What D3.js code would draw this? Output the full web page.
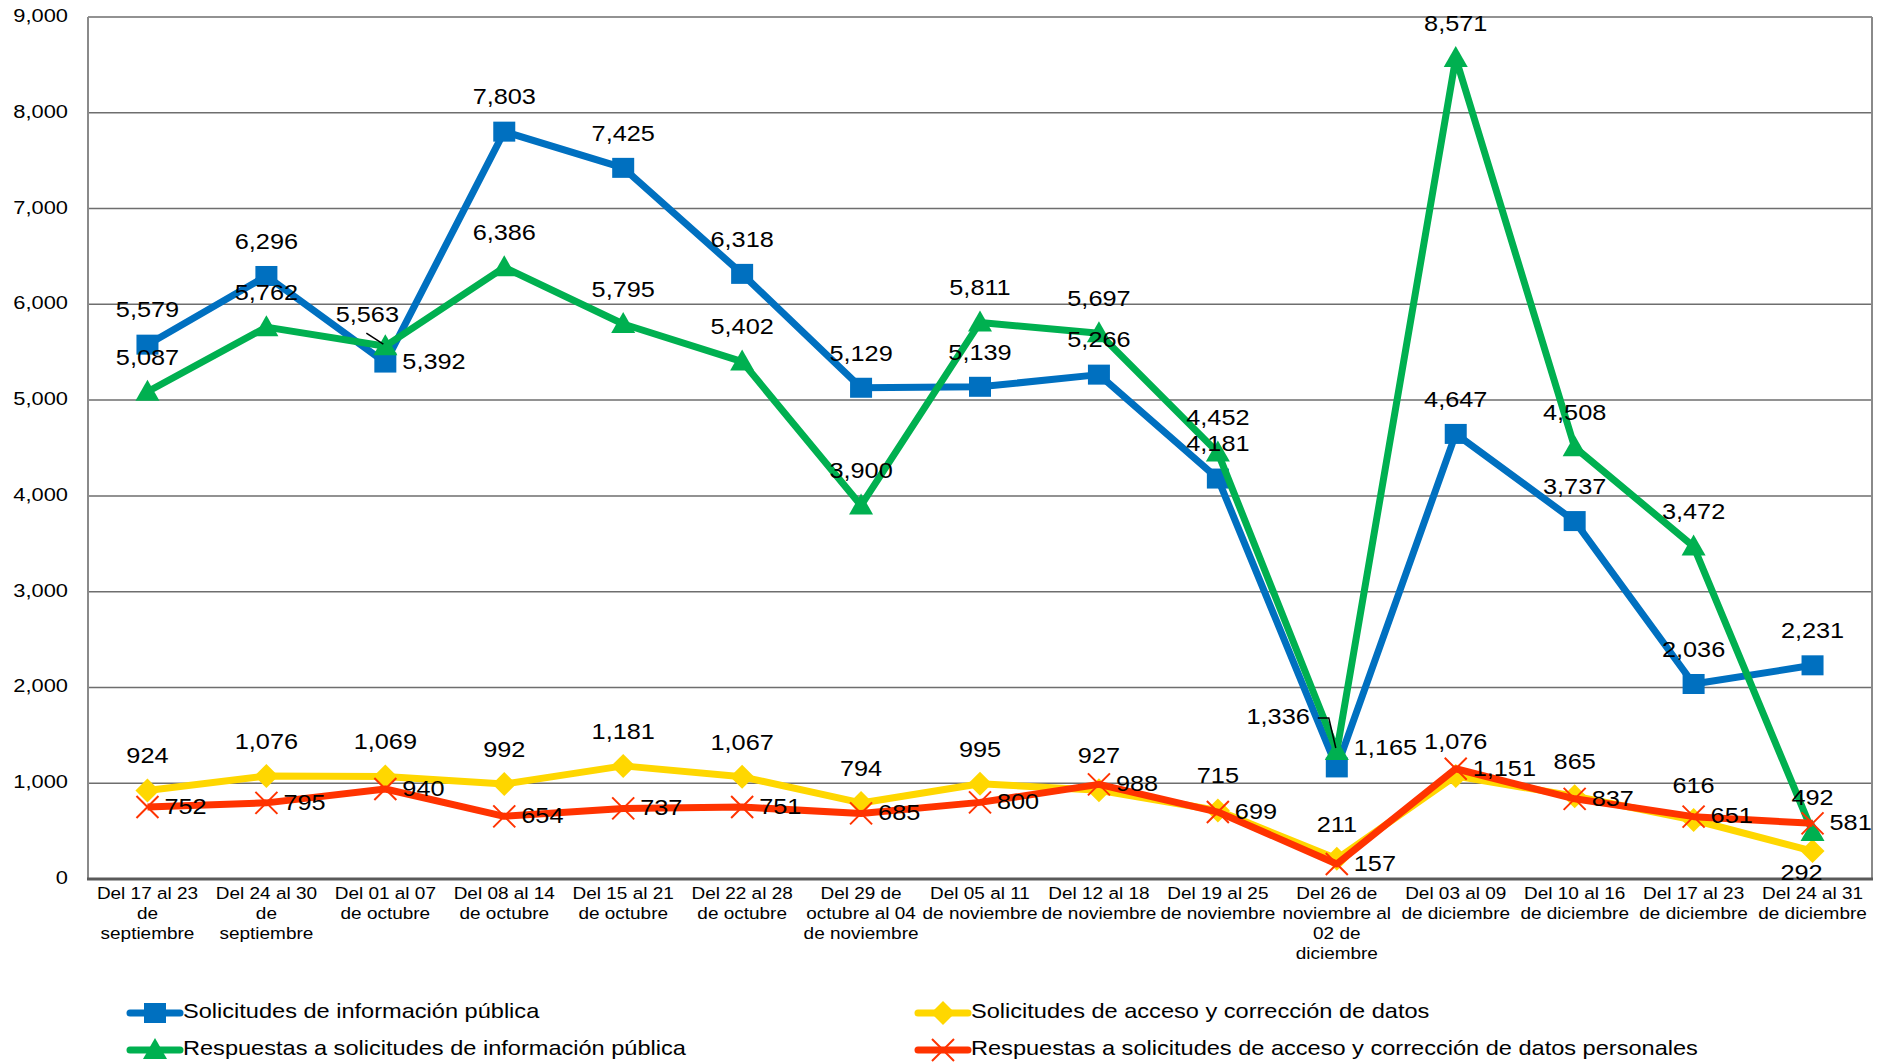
<!DOCTYPE html>
<html>
  <head>
    <meta charset="UTF-8">
    <title>Solicitudes semanales</title>
    <script src="https://d3js.org/d3.v7.min.js"></script>
    <style>
      body { margin: 0; background: #fff; }
      text { font-family: "Liberation Sans", Arial, sans-serif; fill: #000; }
    </style>
  </head>
  <body>
    <script>

const svgWidth = 1895;
const svgHeight = 1062;

const margin = { top: 17, right: 23, bottom: 183, left: 88 };
const chartWidth = svgWidth - margin.left - margin.right;
const chartHeight = svgHeight - margin.top - margin.bottom;

// text in the picture is a little wider than normal Arial
const stretch = 1.15;

const categories = [
  "Del 17 al 23\nde\nseptiembre",
  "Del 24 al 30\nde\nseptiembre",
  "Del 01 al 07\nde octubre",
  "Del 08 al 14\nde octubre",
  "Del 15 al 21\nde octubre",
  "Del 22 al 28\nde octubre",
  "Del 29 de\noctubre al 04\nde noviembre",
  "Del 05 al 11\nde noviembre",
  "Del 12 al 18\nde noviembre",
  "Del 19 al 25\nde noviembre",
  "Del 26 de\nnoviembre al\n02 de\ndiciembre",
  "Del 03 al 09\nde diciembre",
  "Del 10 al 16\nde diciembre",
  "Del 17 al 23\nde diciembre",
  "Del 24 al 31\nde diciembre"
];

const solicitudesInfo = [5579, 6296, 5392, 7803, 7425, 6318, 5129, 5139, 5266, 4181, 1165, 4647, 3737, 2036, 2231];
const solicitudesAcceso = [924, 1076, 1069, 992, 1181, 1067, 794, 995, 927, 715, 211, 1076, 865, 616, 292];
const respuestasInfo = [5087, 5762, 5563, 6386, 5795, 5402, 3900, 5811, 5697, 4452, 1336, 8571, 4508, 3472, 492];
const respuestasAcceso = [752, 795, 940, 654, 737, 751, 685, 800, 988, 699, 157, 1151, 837, 651, 581];

const yTicks = [0, 1000, 2000, 3000, 4000, 5000, 6000, 7000, 8000, 9000];

const seriesNames = [
  "Solicitudes de información pública",
  "Solicitudes de acceso y corrección de datos",
  "Respuestas a solicitudes de información pública",
  "Respuestas a solicitudes de acceso y corrección de datos personales"
];

// where each value label sits: "a" above, "r" right, "b" below, "l" left with leader
const labelPosInfo    = ["a","a","r","a","a","a","a","a","a","a","r","a","a","a","a"];
const labelPosAcceso  = ["a","a","a","a","a","a","a","a","a","a","a","a","a","a","b"];
const labelPosRespInf = ["a","a","lead","a","a","a","a","a","a","a","l","a","a","a","a"];
const labelPosRespAcc = ["r","r","r","r","r","r","r","r","r","r","r","r","r","r","r"];

const series = [
  { name: seriesNames[0], values: solicitudesInfo,   pos: labelPosInfo,    color: "#0070C0", marker: "square" },
  { name: seriesNames[1], values: solicitudesAcceso, pos: labelPosAcceso,  color: "#FFD700", marker: "diamond" },
  { name: seriesNames[2], values: respuestasInfo,    pos: labelPosRespInf, color: "#00B050", marker: "triangle" },
  { name: seriesNames[3], values: respuestasAcceso,  pos: labelPosRespAcc, color: "#FF3300", marker: "x" }
];

const svg = d3.select("body")
  .append("svg")
  .attr("width", svgWidth)
  .attr("height", svgHeight);

svg.append("rect").attr("width", svgWidth).attr("height", svgHeight).attr("fill", "#fff");

const chart = svg.append("g")
  .attr("transform", "translate(" + margin.left + "," + margin.top + ")");

const xScale = d3.scaleBand()
  .domain(d3.range(categories.length))
  .range([0, chartWidth]);

const yScale = d3.scaleLinear()
  .domain([0, 9000])
  .range([chartHeight, 0]);

const cx = i => xScale(i) + xScale.bandwidth() / 2;

function putText(sel, x, y) {
  return sel.attr("transform", "translate(" + x + "," + y + ") scale(" + stretch + ",1)");
}

// gridlines
chart.append("g")
  .selectAll("line")
  .data(yTicks.filter(d => d > 0))
  .enter()
  .append("line")
  .attr("x1", 0)
  .attr("x2", chartWidth)
  .attr("y1", d => yScale(d))
  .attr("y2", d => yScale(d))
  .attr("stroke", "#6e6e6e")
  .attr("stroke-width", 1.5);

// plot border
chart.append("line").attr("x1", chartWidth).attr("x2", chartWidth)
  .attr("y1", 0).attr("y2", chartHeight).attr("stroke", "#8a8a8a").attr("stroke-width", 2);
chart.append("line").attr("x1", 0).attr("x2", 0)
  .attr("y1", 0).attr("y2", chartHeight).attr("stroke", "#8a8a8a").attr("stroke-width", 2);
chart.append("line").attr("x1", -1).attr("x2", chartWidth + 1)
  .attr("y1", chartHeight).attr("y2", chartHeight).attr("stroke", "#5a5a5a").attr("stroke-width", 3);

// y tick labels
const fmt = d3.format(",");
chart.append("g")
  .selectAll("text")
  .data(yTicks)
  .enter()
  .append("text")
  .attr("text-anchor", "end")
  .attr("dominant-baseline", "middle")
  .attr("font-size", 19)
  .each(function(d) { putText(d3.select(this), -20, yScale(d)); })
  .text(d => fmt(d));

// category labels
const catG = chart.append("g");
categories.forEach((c, i) => {
  c.split("\n").forEach((line, j) => {
    putText(catG.append("text"), cx(i), chartHeight + 16 + j * 20)
      .attr("text-anchor", "middle")
      .attr("dominant-baseline", "middle")
      .attr("font-size", 16.5)
      .text(line);
  });
});

// lines
const line = d3.line()
  .x((d, i) => cx(i))
  .y(d => yScale(d));

function drawMarker(g, type, x, y, color) {
  if (type === "square") {
    g.append("rect").attr("x", x - 11).attr("y", y - 10).attr("width", 22).attr("height", 20).attr("fill", color);
  } else if (type === "diamond") {
    g.append("path").attr("d", `M${x},${y - 12}L${x + 12},${y}L${x},${y + 12}L${x - 12},${y}Z`).attr("fill", color);
  } else if (type === "triangle") {
    g.append("path").attr("d", `M${x},${y - 12}L${x + 12},${y + 9}L${x - 12},${y + 9}Z`).attr("fill", color);
  } else {
    g.append("path").attr("d", `M${x - 11},${y - 11}L${x + 11},${y + 11}M${x + 11},${y - 11}L${x - 11},${y + 11}`)
      .attr("stroke", color).attr("stroke-width", 2).attr("fill", "none");
  }
}

series.forEach(s => {
  const g = chart.append("g");
  g.append("path")
    .datum(s.values)
    .attr("d", line)
    .attr("fill", "none")
    .attr("stroke", s.color)
    .attr("stroke-width", 7)
    .attr("stroke-linejoin", "round");
  s.values.forEach((v, i) => drawMarker(g, s.marker, cx(i), yScale(v), s.color));
});

// value labels
const labG = chart.append("g");
series.forEach(s => {
  s.values.forEach((v, i) => {
    const x = cx(i), y = yScale(v);
    const p = s.pos[i];
    const t = labG.append("text")
      .attr("font-size", 22)
      .attr("dominant-baseline", "middle")
      .text(fmt(v));
    if (p === "a") {
      putText(t, x, y - 33).attr("text-anchor", "middle");
    } else if (p === "r") {
      putText(t, x + 17, s.marker === "square" && v < 2000 ? y - 18 : y + 1).attr("text-anchor", "start");
    } else if (p === "b") {
      putText(t, x - 11, y + 23).attr("text-anchor", "middle");
    } else if (p === "l") {
      putText(t, x - 27, y - 33).attr("text-anchor", "end");
      labG.append("path")
        .attr("d", `M${x - 19},${y - 33}L${x - 8},${y - 33}L${x - 1},${y - 3}`)
        .attr("fill", "none").attr("stroke", "#000").attr("stroke-width", 1.5);
    } else if (p === "lead") {
      putText(t, x - 18, y - 30).attr("text-anchor", "middle");
      labG.append("line")
        .attr("x1", x - 19).attr("y1", y - 13).attr("x2", x - 2).attr("y2", y - 2)
        .attr("stroke", "#000").attr("stroke-width", 1.5);
    }
  });
});

// legend
const legendPos = [
  { x: 130, y: 1013 },
  { x: 918, y: 1013 },
  { x: 130, y: 1050 },
  { x: 918, y: 1050 }
];
series.forEach((s, i) => {
  const lg = svg.append("g");
  const p = legendPos[i];
  lg.append("line")
    .attr("x1", p.x).attr("x2", p.x + 50)
    .attr("y1", p.y).attr("y2", p.y)
    .attr("stroke", s.color).attr("stroke-width", 7).attr("stroke-linecap", "round");
  drawMarker(lg, s.marker, p.x + 25, p.y, s.color);
  putText(lg.append("text"), p.x + 53, p.y)
    .attr("font-size", 20.5)
    .attr("dominant-baseline", "middle")
    .text(s.name);
});

    </script>
  </body>
</html>
